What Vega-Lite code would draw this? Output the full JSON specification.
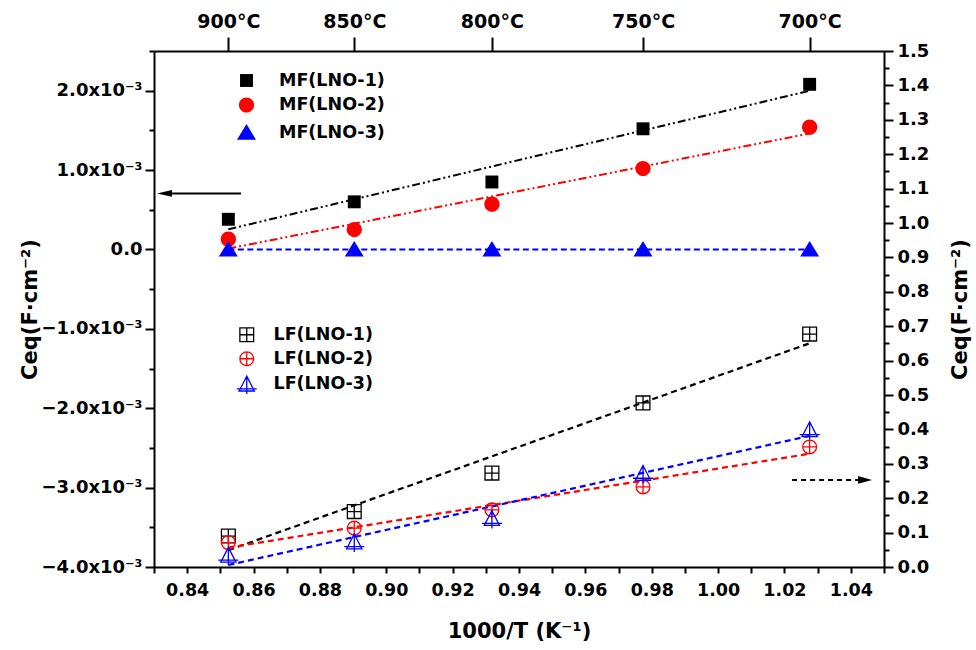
{
  "$schema": "https://vega.github.io/schema/vega-lite/v6.json",
  "width": 730,
  "height": 516,
  "autosize": "none",
  "padding": {"left": 154, "top": 51, "right": 92, "bottom": 83},
  "background": "white",
  "config": {
    "font": "DejaVu Sans",
    "view": {"stroke": null},
    "axis": {
      "domainColor": "black", "domainWidth": 2, "tickColor": "black", "tickWidth": 2,
      "labelFont": "DejaVu Sans", "labelFontWeight": "bold", "labelFontSize": 18, "labelColor": "black",
      "titleFont": "DejaVu Sans", "titleFontWeight": "bold", "titleFontSize": 21, "titleColor": "black",
      "grid": false, "labelOverlap": false, "labelFlush": false
    },
    "legend": {
      "labelFont": "DejaVu Sans", "labelFontWeight": "bold", "labelFontSize": 17.5, "labelColor": "black",
      "padding": 0
    }
  },
  "datasets": {
    "mf": [
      {"x": 0.852406, "c": 0.00038, "series": "MF(LNO-1)"},
      {"x": 0.890353, "c": 0.00060, "series": "MF(LNO-1)"},
      {"x": 0.931836, "c": 0.00085, "series": "MF(LNO-1)"},
      {"x": 0.977374, "c": 0.00152, "series": "MF(LNO-1)"},
      {"x": 1.027591, "c": 0.00208, "series": "MF(LNO-1)"},
      {"x": 0.852406, "c": 0.00013, "series": "MF(LNO-2)"},
      {"x": 0.890353, "c": 0.00025, "series": "MF(LNO-2)"},
      {"x": 0.931836, "c": 0.00057, "series": "MF(LNO-2)"},
      {"x": 0.977374, "c": 0.00102, "series": "MF(LNO-2)"},
      {"x": 1.027591, "c": 0.00154, "series": "MF(LNO-2)"},
      {"x": 0.852406, "c": 0.0, "series": "MF(LNO-3)"},
      {"x": 0.890353, "c": 0.0, "series": "MF(LNO-3)"},
      {"x": 0.931836, "c": 0.0, "series": "MF(LNO-3)"},
      {"x": 0.977374, "c": 0.0, "series": "MF(LNO-3)"},
      {"x": 1.027591, "c": 0.0, "series": "MF(LNO-3)"}
    ],
    "lf": [
      {"x": 0.852406, "c": 0.090, "series": "LF(LNO-1)"},
      {"x": 0.890353, "c": 0.161, "series": "LF(LNO-1)"},
      {"x": 0.931836, "c": 0.273, "series": "LF(LNO-1)"},
      {"x": 0.977374, "c": 0.477, "series": "LF(LNO-1)"},
      {"x": 1.027591, "c": 0.677, "series": "LF(LNO-1)"},
      {"x": 0.852406, "c": 0.071, "series": "LF(LNO-2)"},
      {"x": 0.890353, "c": 0.113, "series": "LF(LNO-2)"},
      {"x": 0.931836, "c": 0.166, "series": "LF(LNO-2)"},
      {"x": 0.977374, "c": 0.233, "series": "LF(LNO-2)"},
      {"x": 1.027591, "c": 0.349, "series": "LF(LNO-2)"},
      {"x": 0.852406, "c": 0.035, "series": "LF(LNO-3)"},
      {"x": 0.890353, "c": 0.074, "series": "LF(LNO-3)"},
      {"x": 0.931836, "c": 0.142, "series": "LF(LNO-3)"},
      {"x": 0.977374, "c": 0.273, "series": "LF(LNO-3)"},
      {"x": 1.027591, "c": 0.400, "series": "LF(LNO-3)"}
    ],
    "arrowL": [
      {"x": 0.8335, "c": 0.000705},
      {"x": 0.8562, "c": 0.000705}
    ],
    "arrowLHead": [
      {"x": 0.83316, "c": 0.000705}
    ],
    "arrowR": [
      {"x": 1.0223, "c": 0.253},
      {"x": 1.0425, "c": 0.253}
    ],
    "arrowRHead": [
      {"x": 1.0443, "c": 0.253}
    ]
  },
  "resolve": {
    "scale": {"y": "independent", "color": "independent", "shape": "independent", "stroke": "independent", "strokeDash": "independent"},
    "axis": {"x": "independent", "y": "independent"},
    "legend": {"color": "independent", "shape": "independent"}
  },
  "layer": [
    {
      "data": {"name": "mf"},
      "transform": [{"regression": "c", "on": "x", "groupby": ["series"], "method": "linear"}],
      "mark": {"type": "line", "strokeWidth": 2},
      "encoding": {
        "x": {"field": "x", "type": "quantitative", "scale": {"domain": [0.83, 1.05], "nice": false, "zero": false}, "axis": null},
        "y": {"field": "c", "type": "quantitative", "scale": {"domain": [-0.004, 0.0025], "nice": false, "zero": false}, "axis": null},
        "stroke": {"field": "series", "type": "nominal", "scale": {"domain": ["MF(LNO-1)", "MF(LNO-2)", "MF(LNO-3)"], "range": ["#000000", "#ff0000", "#0000ff"]}, "legend": null},
        "strokeDash": {"field": "series", "type": "nominal", "scale": {"domain": ["MF(LNO-1)", "MF(LNO-2)", "MF(LNO-3)"], "range": [[8, 3, 2, 3, 2, 3], [8, 3, 2, 3, 2, 3], [6, 3.5]]}, "legend": null}
      }
    },
    {
      "data": {"name": "lf"},
      "transform": [{"regression": "c", "on": "x", "groupby": ["series"], "method": "linear"}],
      "mark": {"type": "line", "strokeWidth": 2.2, "strokeDash": [6, 4]},
      "encoding": {
        "x": {"field": "x", "type": "quantitative", "axis": null},
        "y": {"field": "c", "type": "quantitative", "scale": {"domain": [0, 1.5], "nice": false, "zero": false}, "axis": null},
        "stroke": {"field": "series", "type": "nominal", "scale": {"domain": ["LF(LNO-1)", "LF(LNO-2)", "LF(LNO-3)"], "range": ["#000000", "#ff0000", "#0000ff"]}, "legend": null}
      }
    },
    {
      "data": {"name": "mf"},
      "mark": {"type": "point", "filled": true, "opacity": 1, "size": 361},
      "encoding": {
        "x": {"field": "x", "type": "quantitative", "title": "1000/T (K⁻¹)",
          "axis": {"orient": "bottom", "values": [0.83, 0.84, 0.85, 0.86, 0.87, 0.88, 0.89, 0.9, 0.91, 0.92, 0.93, 0.94, 0.95, 0.96, 0.97, 0.98, 0.99, 1.0, 1.01, 1.02, 1.03, 1.04, 1.05],
            "labelExpr": "round(datum.value*100) % 2 == 0 ? format(datum.value, '.2f') : ''",
            "tickSize": 6, "labelPadding": 8, "labelFontSize": 17.5, "titlePadding": 22}},
        "y": {"field": "c", "type": "quantitative", "title": "Ceq(F·cm⁻²)",
          "scale": {"domain": [-0.004, 0.0025], "nice": false, "zero": false},
          "axis": {"orient": "left",
            "values": [-0.004, -0.0035, -0.003, -0.0025, -0.002, -0.0015, -0.001, -0.0005, 0, 0.0005, 0.001, 0.0015, 0.002, 0.0025],
            "labelExpr": "abs(datum.value*1000 - round(datum.value*1000)) < 0.000001 ? (abs(datum.value) < 0.0000001 ? '0.0' : format(datum.value*1000, '.1f') + 'x10⁻³') : ''",
            "tickSize": {"condition": {"test": "abs(datum.value*1000 - round(datum.value*1000)) < 0.000001", "value": 9}, "value": 5},
            "labelPadding": 3, "titlePadding": 0}},
        "color": {"field": "series", "type": "nominal", "scale": {"domain": ["MF(LNO-1)", "MF(LNO-2)", "MF(LNO-3)"], "range": ["#000000", "#ff0000", "#0000ff"]},
          "legend": {"title": null, "orient": "none", "legendX": 82, "legendY": 19, "symbolSize": 361, "labelOffset": 22, "rowPadding": 3.5, "symbolOpacity": 1}},
        "shape": {"field": "series", "type": "nominal", "scale": {"domain": ["MF(LNO-1)", "MF(LNO-2)", "MF(LNO-3)"], "range": [
            "M-0.68,-0.68H0.68V0.68H-0.68Z",
            "M-0.8,0A0.8,0.8,0,1,1,0.8,0A0.8,0.8,0,1,1,-0.8,0Z",
            "M0,-0.9L1,0.75L-1,0.75Z"]},
          "legend": {"title": null, "orient": "none", "legendX": 82, "legendY": 19, "symbolSize": 361, "labelOffset": 22, "rowPadding": 3.5, "symbolOpacity": 1}}
      }
    },
    {
      "data": {"name": "lf"},
      "mark": {"type": "point", "filled": false, "opacity": 1, "strokeWidth": 1.3, "size": 190},
      "encoding": {
        "x": {"field": "x", "type": "quantitative", "title": null,
          "axis": {"orient": "top", "values": [0.852406, 0.890353, 0.931836, 0.977374, 1.027591],
            "labelExpr": "format(round(1000/datum.value - 273.15), 'd') + '°C'",
            "tickSize": 14, "labelPadding": 6, "labelFontSize": 19}},
        "y": {"field": "c", "type": "quantitative", "title": "Ceq(F·cm⁻²)",
          "scale": {"domain": [0, 1.5], "nice": false, "zero": false},
          "axis": {"orient": "right",
            "values": [0, 0.05, 0.1, 0.15, 0.2, 0.25, 0.3, 0.35, 0.4, 0.45, 0.5, 0.55, 0.6, 0.65, 0.7, 0.75, 0.8, 0.85, 0.9, 0.95, 1.0, 1.05, 1.1, 1.15, 1.2, 1.25, 1.3, 1.35, 1.4, 1.45, 1.5],
            "labelExpr": "abs(datum.value*10 - round(datum.value*10)) < 0.00001 ? format(datum.value, '.1f') : ''",
            "tickSize": {"condition": {"test": "abs(datum.value*10 - round(datum.value*10)) < 0.00001", "value": 9}, "value": 5},
            "labelPadding": 4, "titlePadding": 21, "titleAngle": 270, "titleBaseline": "top"}},
        "color": {"field": "series", "type": "nominal", "scale": {"domain": ["LF(LNO-1)", "LF(LNO-2)", "LF(LNO-3)"], "range": ["#000000", "#ff0000", "#0000ff"]},
          "legend": {"title": null, "orient": "none", "legendX": 84, "legendY": 275, "symbolSize": 190, "labelOffset": 18, "rowPadding": 4, "symbolStrokeWidth": 1.3, "symbolOpacity": 1}},
        "shape": {"field": "series", "type": "nominal", "scale": {"domain": ["LF(LNO-1)", "LF(LNO-2)", "LF(LNO-3)"], "range": [
            "M-1,-1H1V1H-1Z M0,-1V1 M-1,0H1",
            "M-1,0A1,1,0,1,1,1,0A1,1,0,1,1,-1,0Z M0,-1V1 M-1,0H1",
            "M0,-1.1L1.1,1.05L-1.1,1.05Z M0,-1.1V1.5 M-1.45,0.75H1.45"]},
          "legend": {"title": null, "orient": "none", "legendX": 84, "legendY": 275, "symbolSize": 190, "labelOffset": 18, "rowPadding": 4, "symbolStrokeWidth": 1.3, "symbolOpacity": 1}}
      }
    },
    {
      "data": {"name": "arrowL"},
      "mark": {"type": "line", "color": "black", "strokeWidth": 2},
      "encoding": {
        "x": {"field": "x", "type": "quantitative", "axis": null},
        "y": {"field": "c", "type": "quantitative", "scale": {"domain": [-0.004, 0.0025], "nice": false, "zero": false}, "axis": null}
      }
    },
    {
      "data": {"name": "arrowLHead"},
      "mark": {"type": "point", "filled": true, "color": "black", "opacity": 1, "size": 225, "shape": "M-1,0L1,-0.45L1,0.45Z"},
      "encoding": {
        "x": {"field": "x", "type": "quantitative", "axis": null},
        "y": {"field": "c", "type": "quantitative", "scale": {"domain": [-0.004, 0.0025], "nice": false, "zero": false}, "axis": null}
      }
    },
    {
      "data": {"name": "arrowR"},
      "mark": {"type": "line", "color": "black", "strokeWidth": 2, "strokeDash": [5, 4]},
      "encoding": {
        "x": {"field": "x", "type": "quantitative", "axis": null},
        "y": {"field": "c", "type": "quantitative", "scale": {"domain": [0, 1.5], "nice": false, "zero": false}, "axis": null}
      }
    },
    {
      "data": {"name": "arrowRHead"},
      "mark": {"type": "point", "filled": true, "color": "black", "opacity": 1, "size": 196, "shape": "M1,0L-1,-0.55L-1,0.55Z"},
      "encoding": {
        "x": {"field": "x", "type": "quantitative", "axis": null},
        "y": {"field": "c", "type": "quantitative", "scale": {"domain": [0, 1.5], "nice": false, "zero": false}, "axis": null}
      }
    }
  ]
}
